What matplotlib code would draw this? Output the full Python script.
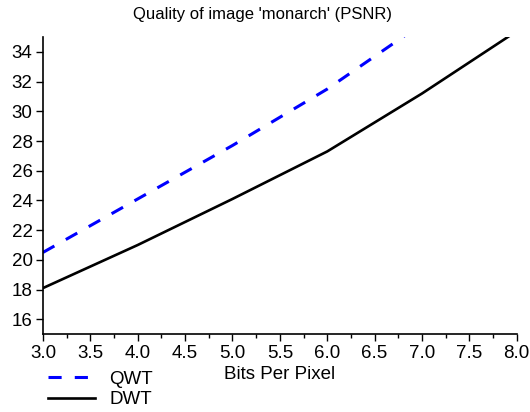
import matplotlib
matplotlib.use('Agg')
import matplotlib.pyplot as plt
from matplotlib.ticker import MultipleLocator
from matplotlib.lines import Line2D

plt.rcParams['font.family'] = ['Liberation Sans', 'DejaVu Sans']

# ข้อมูลอ่านจากกราฟ (PSNR เทียบกับ bits per pixel)
bpp = [3.0, 4.0, 5.0, 6.0, 7.0, 8.0]
qwt = [20.5, 24.1, 27.7, 31.5, 35.9, 40.3]
dwt = [18.1, 21.0, 24.1, 27.3, 31.2, 35.4]
xticks = [3.0, 3.5, 4.0, 4.5, 5.0, 5.5, 6.0, 6.5, 7.0, 7.5, 8.0]
yticks = [16, 18, 20, 22, 24, 26, 28, 30, 32, 34]

fs = 13.5
dash = (0, (4.3, 4.3))

fig = plt.figure(figsize=(5.3, 4.12), dpi=100)
ax = fig.add_axes([0.081, 0.189, 0.894, 0.721])

ax.plot(bpp, qwt, color='#0000ff', linewidth=2.2, linestyle=dash)
ax.plot(bpp, dwt, color='black', linewidth=1.9)

ax.set_xlim(3.0, 8.0)
ax.set_ylim(15, 35)
ax.set_xticks(xticks)
ax.set_xticklabels([f'{v:.1f}' for v in xticks])
ax.xaxis.set_minor_locator(MultipleLocator(0.25))
ax.set_yticks(yticks)

for s in ['top', 'right']:
    ax.spines[s].set_visible(False)
ax.spines['left'].set_linewidth(1.2)
ax.spines['bottom'].set_linewidth(1.2)
ax.tick_params(which='major', direction='out', length=5, width=1.0, labelsize=fs, pad=2.5)
ax.tick_params(which='minor', direction='out', length=3, width=1.0)

ax.set_xlabel('Bits Per Pixel', fontsize=fs, labelpad=3)
fig.text(0.495, 0.965, "Quality of image 'monarch' (PSNR)", ha='center', va='center', fontsize=12)

handles = [Line2D([], [], color='#0000ff', linewidth=2.2, linestyle=dash),
           Line2D([], [], color='black', linewidth=1.9)]
fig.legend(handles, ['QWT', 'DWT'], loc='upper left', bbox_to_anchor=(0.09, 0.101),
           frameon=False, fontsize=fs, handlelength=2.5, handletextpad=0.8,
           labelspacing=0.2, borderpad=0, borderaxespad=0)

fig.savefig('out.png', dpi=100)
